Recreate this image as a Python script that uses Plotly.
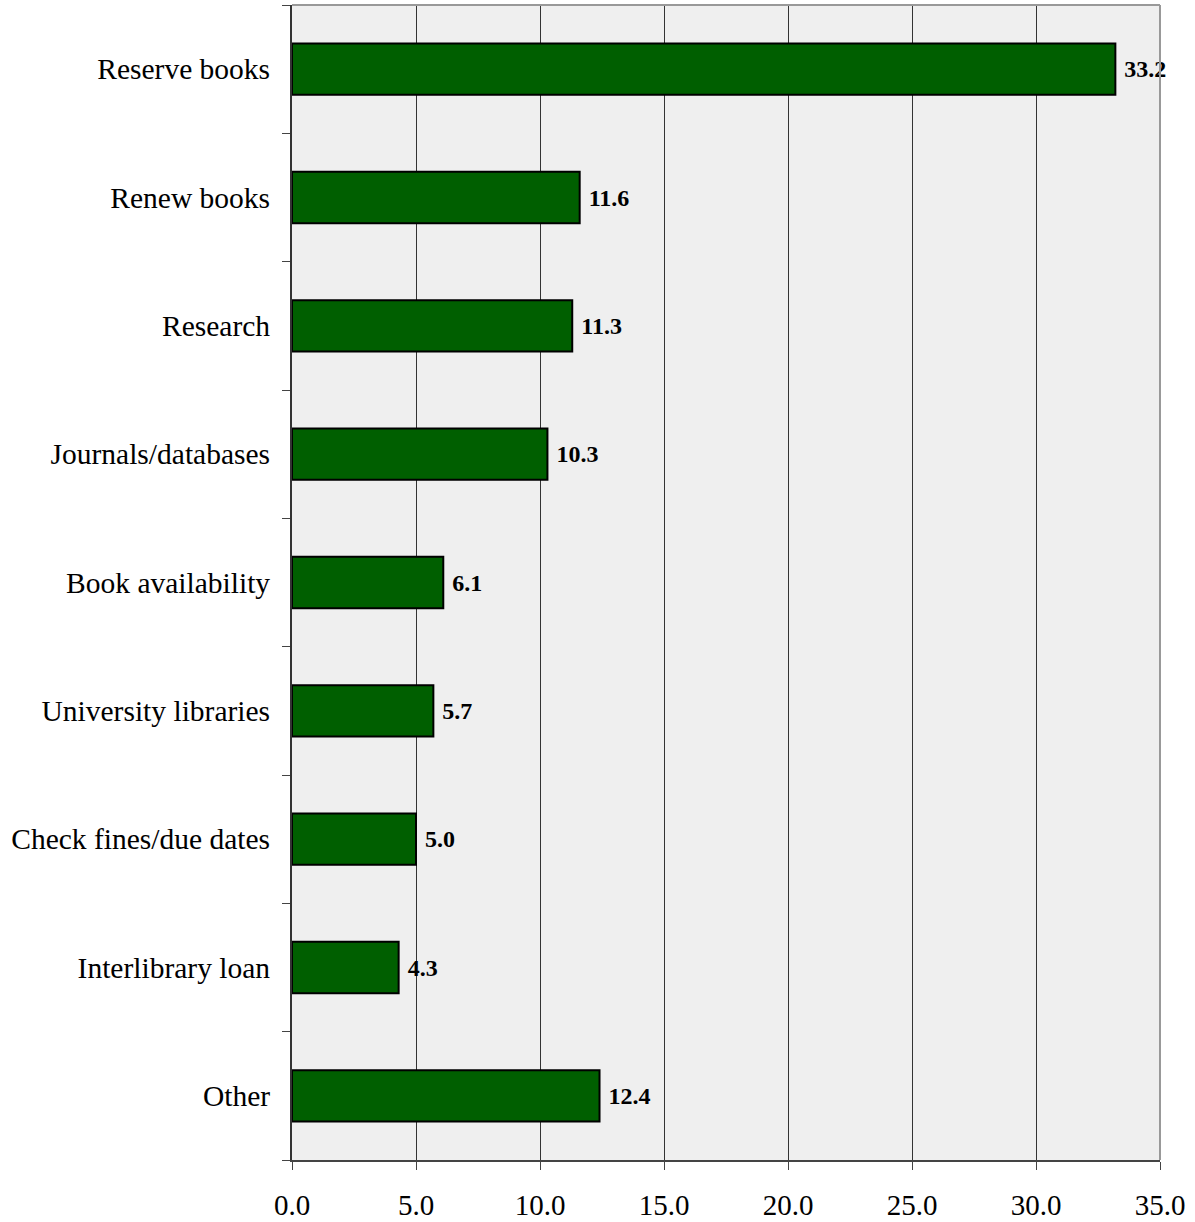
import plotly.graph_objects as go

# Reasons for using the library website (%)
categories = [
    "Reserve books",
    "Renew books",
    "Research",
    "Journals/databases",
    "Book availability",
    "University libraries",
    "Check fines/due dates",
    "Interlibrary loan",
    "Other",
]
values = [33.2, 11.6, 11.3, 10.3, 6.1, 5.7, 5.0, 4.3, 12.4]
x_ticks = [0, 5, 10, 15, 20, 25, 30, 35]

serif = "Liberation Serif, Times New Roman, serif"

fig = go.Figure(
    go.Bar(
        y=categories,
        x=values,
        orientation="h",
        marker=dict(color="#005F00", line=dict(color="black", width=2)),
        width=0.4,
        text=[f" {v:.1f}" for v in values],
        textposition="outside",
        textfont=dict(family=serif, size=24, color="black", weight="bold"),
        cliponaxis=False,
    )
)

fig.update_layout(
    width=1195,
    height=1222,
    margin=dict(l=292, r=35, t=5, b=62),
    paper_bgcolor="white",
    plot_bgcolor="#efefef",
    showlegend=False,
    font=dict(family=serif, size=29, color="black"),
    uniformtext=dict(minsize=24, mode="show"),
)

fig.update_xaxes(
    range=[0, 35],
    tickvals=x_ticks,
    ticktext=[f"{t:.1f}" for t in x_ticks],
    showgrid=True,
    gridcolor="#333333",
    gridwidth=1,
    zeroline=False,
    showline=True,
    linecolor="#444444",
    linewidth=2,
    ticks="outside",
    ticklen=8,
    tickcolor="#444444",
    tickfont=dict(family=serif, size=29),
    ticklabelstandoff=10,
    mirror=False,
    automargin=False,
)

fig.update_yaxes(
    categoryorder="array",
    categoryarray=categories[::-1],
    tickson="boundaries",
    ticks="outside",
    ticklen=8,
    tickcolor="#444444",
    showline=True,
    linecolor="#333333",
    linewidth=2,
    showgrid=False,
    tickfont=dict(family=serif, size=29.5),
    ticklabelstandoff=14,
    automargin=False,
)

# Thin gray frame on the top and right edges of the plot area
fig.add_shape(
    type="line", xref="paper", yref="paper",
    x0=0, x1=1, y0=1, y1=1,
    line=dict(color="#999999", width=2),
)
fig.add_shape(
    type="line", xref="paper", yref="paper",
    x0=1, x1=1, y0=0, y1=1,
    line=dict(color="#999999", width=2),
)

fig.write_html("out.html")
